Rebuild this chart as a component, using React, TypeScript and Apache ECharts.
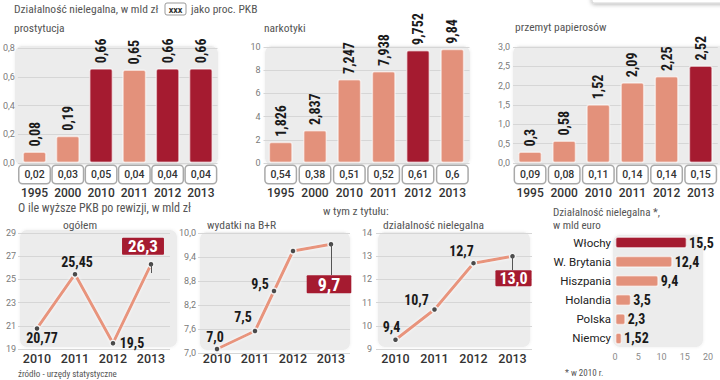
import React, { useEffect, useRef } from 'react';
import * as echarts from 'echarts';

// ---------- data ----------
const years = ['1995', '2000', '2010', '2011', '2012', '2013'];
const prostValues = [0.08, 0.19, 0.66, 0.65, 0.66, 0.66];
const prostPct = [0.02, 0.03, 0.05, 0.04, 0.04, 0.04];
const prostDark = [2, 4, 5];
const narkValues = [1.826, 2.837, 7.247, 7.938, 9.752, 9.84];
const narkPct = [0.54, 0.38, 0.51, 0.52, 0.61, 0.6];
const narkDark = [4];
const papValues = [0.3, 0.58, 1.52, 2.09, 2.25, 2.52];
const papPct = [0.09, 0.08, 0.11, 0.14, 0.14, 0.15];
const papDark = [5];

const revYears = ['2010', '2011', '2012', '2013'];
const totalValues = [20.77, 25.45, 19.5, 26.3];
const rdPointX = [0.5, 1.5, 2, 2.5, 3.5];
const rdValues = [7.1, 7.55, 8.55, 9.55, 9.72];
const rdLabels = ['7,0', '7,5', '9,5', '', '9,7'];
const illegalValues = [9.4, 10.7, 12.7, 13.0];

const countries = ['Włochy', 'W. Brytania', 'Hiszpania', 'Holandia', 'Polska', 'Niemcy'];
const euroValues = [15.5, 12.4, 9.4, 3.5, 2.3, 1.52];
const euroDark = [0];

// ---------- style ----------
const NARROW = '"Liberation Sans Narrow", "Roboto Condensed", "Arial Narrow", "DejaVu Sans Condensed", sans-serif';
const SANS = 'Roboto, "Noto Sans", sans-serif';
const DARK = '#a51b30';
const SALMON = '#e3917b';
const BG = '#ececec';
const fmt = (v: number) => String(v).replace('.', ',');

function buildOption() {
  const grids = [
    { left: 13.5, top: 48, width: 204, height: 115 },
    { left: 263.5, top: 47, width: 206, height: 116 },
    { left: 513, top: 47, width: 207, height: 116 },
    { left: 18, top: 233, width: 152, height: 116 },
    { left: 198, top: 233, width: 152, height: 120 },
    { left: 376, top: 233, width: 156, height: 116 },
    { left: 615, top: 233, width: 93, height: 115 },
  ];
  const bgs = [
    [15, 46, 203, 119], [265, 46, 205, 119], [513, 46, 215, 119],
    [20, 230, 157, 117], [200, 232, 150, 118], [378, 232, 152, 115], [613, 235, 90, 112],
  ];
  const xAxis: any[] = [];
  const yAxis: any[] = [];
  const series: any[] = [];

  const yLab = { fontSize: 9, color: '#7a7a7a', fontFamily: SANS, margin: 3 };
  const split = { show: true, lineStyle: { color: '#d6d6d6', width: 1 } };
  const noLine = { show: false };

  const barPanel = (gi: number, values: number[], pct: number[], dark: number[], max: number, interval: number, dec: number) => {
    xAxis.push({
      type: 'category', gridIndex: gi, data: years,
      axisLine: noLine, axisTick: noLine,
      axisLabel: {
        margin: 3, interval: 0,
        formatter: (v: string, idx: number) => `{b|${fmt(pct[idx])}}\n{y|${v}}`,
        rich: {
          b: {
            fontSize: 10.5, fontFamily: SANS, fontWeight: 500, color: '#333',
            backgroundColor: '#fff', borderColor: '#a9a9a9', borderWidth: 1.5, borderRadius: 3,
            width: 24, height: 11, align: 'center', padding: [3, 3],
          },
          y: { fontSize: 12, fontFamily: SANS, fontWeight: 500, color: '#333', lineHeight: 17, padding: [2, 0, 0, 0] },
        },
      },
    });
    yAxis.push({
      type: 'value', gridIndex: gi, min: 0, max, interval,
      axisLine: noLine, axisTick: noLine, splitLine: split,
      axisLabel: { ...yLab, formatter: (v: number) => v.toFixed(dec).replace('.', ',') },
    });
    series.push({
      type: 'bar', xAxisIndex: xAxis.length - 1, yAxisIndex: yAxis.length - 1, barWidth: 24,
      data: values.map((v, k) => ({
        value: v,
        itemStyle: { color: dark.includes(k) ? DARK : SALMON, borderColor: 'rgba(255,255,255,0.55)', borderWidth: 1.5, borderRadius: 2 },
      })),
      label: {
        show: true, position: 'top', rotate: 90, align: 'left', verticalAlign: 'middle', distance: 5,
        fontFamily: NARROW, fontWeight: 'bold', fontSize: 14, color: '#1a1a1a',
        formatter: (p: any) => fmt(p.value),
      },
    });
  };

  barPanel(0, prostValues, prostPct, prostDark, 0.8, 0.2, 1);
  barPanel(1, narkValues, narkPct, narkDark, 10, 2, 0);
  barPanel(2, papValues, papPct, papDark, 3, 0.5, 1);

  const xLab = { fontSize: 12.5, fontFamily: SANS, fontWeight: 500, color: '#333' };
  const lineStyle = { color: '#e8947c', width: 3, shadowColor: 'rgba(255,255,255,0.9)', shadowBlur: 3 };
  const sym = { color: '#4a4a4a', borderColor: '#f2f2f2', borderWidth: 1.5 };
  const baseLabel = {
    show: true, position: 'inside', fontFamily: NARROW, fontWeight: 'bold', fontSize: 14, color: '#1a1a1a',
  };
  const boxLabel = (pad: number[], fs: number, lh: number) => ({
    backgroundColor: DARK, color: '#fff', fontSize: fs, lineHeight: lh, padding: pad, borderRadius: 1,
  });
  const leader = (a: any[], b: any[]) => ({
    silent: true, symbol: ['none', 'none'], animation: false,
    lineStyle: { color: '#555', width: 1, type: 'solid' }, label: { show: false },
    data: [[{ coord: a }, { coord: b }]],
  });

  // --- ogółem (offset axis: value - 19) ---
  const totOff = 19;
  const totLabelOffsets = [[5, 10], [2, -12], [19, 0], [-8, -18]];
  xAxis.push({ type: 'category', gridIndex: 3, data: revYears, axisLine: noLine, axisTick: noLine, axisLabel: { ...xLab, margin: 3 } });
  yAxis.push({
    type: 'value', gridIndex: 3, min: 0, max: 10, interval: 2, axisLine: noLine, axisTick: noLine, splitLine: split,
    axisLabel: { ...yLab, margin: 2, formatter: (v: number) => String(v + totOff) },
  });
  series.push({
    type: 'line', xAxisIndex: xAxis.length - 1, yAxisIndex: yAxis.length - 1,
    symbol: 'circle', symbolSize: 6, itemStyle: sym, lineStyle,
    label: { ...baseLabel, formatter: (p: any) => fmt(totalValues[p.dataIndex]) },
    data: totalValues.map((v, k) => ({
      value: v - totOff,
      label: k === 3 ? { offset: totLabelOffsets[k], ...boxLabel([0, 6], 17, 17) } : { offset: totLabelOffsets[k] },
    })),
    markLine: leader([3, totalValues[3] - totOff], [3, 25.55 - totOff]),
  });

  // --- wydatki na B+R (offset axis: value - 7) ---
  const rdOff = 7;
  const rdLabelOffsets = [[-2, -12], [-12, -14], [-14, -7], [0, 0], [-2, 40]];
  xAxis.push({ type: 'category', gridIndex: 4, data: revYears, axisLine: noLine, axisTick: noLine, axisLabel: { ...xLab, margin: -1 } });
  const rdCatIdx = xAxis.length - 1;
  xAxis.push({ type: 'value', gridIndex: 4, min: 0, max: 4, interval: 1, show: false, splitLine: noLine });
  yAxis.push({
    type: 'value', gridIndex: 4, min: 0, max: 3, interval: 0.6, axisLine: noLine, axisTick: noLine, splitLine: split,
    axisLabel: { ...yLab, margin: 2, formatter: (v: number) => (v + rdOff).toFixed(1).replace('.', ',') },
  });
  series.push({
    type: 'line', xAxisIndex: rdCatIdx + 1, yAxisIndex: yAxis.length - 1,
    symbol: 'circle', symbolSize: 6, itemStyle: sym, lineStyle,
    label: { ...baseLabel, formatter: (p: any) => rdLabels[p.dataIndex] },
    data: rdValues.map((v, k) => ({
      value: [rdPointX[k], v - rdOff],
      label: k === 4 ? { offset: rdLabelOffsets[k], ...boxLabel([0, 11], 18, 18) } : { offset: rdLabelOffsets[k] },
    })),
    markLine: leader([rdPointX[4], rdValues[4] - rdOff], [rdPointX[4], 8.95 - rdOff]),
  });

  // --- działalność nielegalna ---
  const ilLabelOffsets = [[-4, -13], [-18, -10], [-12, -12.5], [1, 22]];
  xAxis.push({ type: 'category', gridIndex: 5, data: revYears, axisLine: noLine, axisTick: noLine, axisLabel: { ...xLab, margin: 3 } });
  yAxis.push({
    type: 'value', gridIndex: 5, min: 9, max: 14, interval: 1, axisLine: noLine, axisTick: noLine, splitLine: split,
    axisLabel: { ...yLab, margin: 4 },
  });
  series.push({
    type: 'line', xAxisIndex: xAxis.length - 1, yAxisIndex: yAxis.length - 1,
    symbol: 'circle', symbolSize: 6, itemStyle: sym, lineStyle,
    label: { ...baseLabel, formatter: (p: any) => p.value.toFixed(1).replace('.', ',') },
    data: illegalValues.map((v, k) => ({
      value: v,
      label: k === 3 ? { offset: ilLabelOffsets[k], ...boxLabel([0, 4], 16, 16) } : { offset: ilLabelOffsets[k] },
    })),
    markLine: leader([3, illegalValues[3]], [3, 12.4]),
  });

  // --- horizontal bars ---
  xAxis.push({
    type: 'value', gridIndex: 6, min: 0, max: 20, interval: 5, axisLine: noLine, axisTick: noLine,
    splitLine: noLine, axisLabel: { fontSize: 9, color: '#8a8a8a', fontFamily: SANS, margin: 4 },
  });
  yAxis.push({
    type: 'category', gridIndex: 6, data: countries, inverse: true, axisLine: noLine, axisTick: noLine,
    axisLabel: { fontSize: 11.5, color: '#222', fontFamily: SANS, margin: 4 },
  });
  series.push({
    type: 'bar', xAxisIndex: xAxis.length - 1, yAxisIndex: yAxis.length - 1, barWidth: 12,
    data: euroValues.map((v, k) => ({
      value: v,
      itemStyle: { color: euroDark.includes(k) ? DARK : SALMON, borderColor: 'rgba(255,255,255,0.55)', borderWidth: 1.5, borderRadius: 2 },
    })),
    label: {
      show: true, position: 'right', distance: 2, fontFamily: NARROW, fontWeight: 'bold', fontSize: 14, color: '#1a1a1a',
      formatter: (p: any) => fmt(p.value),
    },
  });

  const txt = (x: number, y: number, text: string, size = 11, fill = '#555', extra: any = {}) => ({
    type: 'text', x, y, z: 5,
    style: { text, fontSize: size, fill, fontFamily: NARROW, verticalAlign: 'middle', ...extra },
  });

  const graphic: any[] = [
    ...bgs.map(([x, y, w, h]) => ({
      type: 'rect', z: -10, shape: { x, y, width: w, height: h, r: 7 },
      style: { fill: BG, shadowBlur: 3, shadowColor: 'rgba(0,0,0,0.08)' },
    })),
    { type: 'rect', z: 5, shape: { x: 592, y: -12, width: 140, height: 15, r: 2 }, style: { fill: '#fff', stroke: '#d5d5d5', shadowBlur: 4, shadowColor: 'rgba(0,0,0,0.3)', shadowOffsetY: 1 } },
    txt(14, 9, 'Działalność nielegalna, w mld zł', 11.5),
    { type: 'rect', z: 5, shape: { x: 165, y: 3, width: 21, height: 12, r: 2 }, style: { fill: '#fff', stroke: '#999', lineWidth: 1 } },
    txt(175.5, 9.5, 'xxx', 9, '#333', { align: 'center', fontWeight: 'bold', fontFamily: SANS }),
    txt(191, 9, 'jako proc. PKB', 11.5),
    txt(14, 28, 'prostytucja', 11.5),
    txt(264, 28, 'narkotyki', 11.5),
    txt(515, 27, 'przemyt papierosów', 11.5),
    txt(18, 208, 'O ile wyższe PKB po rewizji, w mld zł', 12),
    txt(323, 211, 'w tym z tytułu:', 11.5),
    txt(63, 225, 'ogółem', 11.5),
    txt(207, 225, 'wydatki na B+R', 11.5),
    txt(383, 225, 'działalność nielegalna', 11.5),
    txt(553, 212.5, 'Działalność nielegalna *,', 11),
    txt(553, 225, 'w mld euro', 11),
    txt(18, 374, 'źródło - urzędy statystyczne', 9),
    txt(565, 373, '* w 2010 r.', 9),
  ];

  return {
    animation: false,
    backgroundColor: '#fff',
    grid: grids,
    xAxis, yAxis, series, graphic,
  };
}

export default function App() {
  const ref = useRef<HTMLDivElement>(null);
  useEffect(() => {
    document.body.style.margin = '0';
    const chart = echarts.init(ref.current!, null, { renderer: 'svg' });
    chart.setOption(buildOption() as any);
    return () => chart.dispose();
  }, []);
  return <div ref={ref} style={{ width: 720, height: 380, background: '#fff' }} />;
}
